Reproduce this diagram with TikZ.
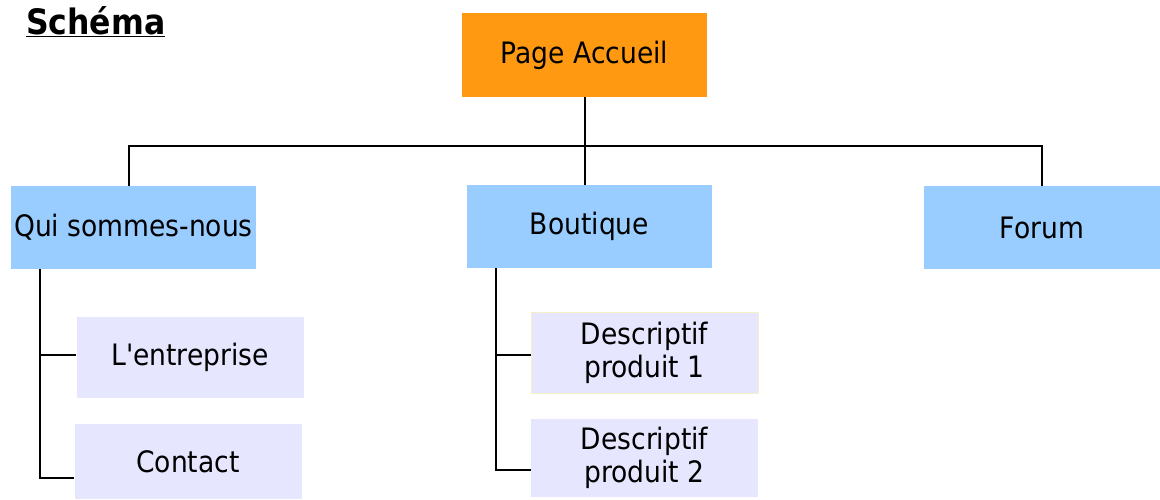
\documentclass[tikz,border=0pt]{standalone}
\usepackage{fontspec}
\setmainfont{DejaVu Sans Condensed}[Ligatures=TeXOff]
\definecolor{homeorange}{HTML}{FF9912}
\definecolor{secblue}{HTML}{99CCFF}
\definecolor{subviolet}{HTML}{E6E6FF}
\begin{document}
\begin{tikzpicture}[x=1pt,y=-1pt,
  box/.style={inner sep=0pt,minimum width=245pt,minimum height=83pt,align=center,
    font=\fontsize{29.5}{33}\selectfont},
  homebox/.style={box,fill=homeorange,minimum height=84pt},
  secbox/.style={box,fill=secblue},
  subbox/.style={box,fill=subviolet,minimum width=227pt,minimum height=81pt},
  link/.style={draw=black,line width=2pt}]
\useasboundingbox (0,0) rectangle (1160,499);
\node[anchor=base west,font=\fontsize{35}{40}\bfseries\selectfont,inner sep=0pt] (title) at (26,34) {\underline{Schéma}};
\node[homebox] (home) at (584.5,55) {Page Accueil};
\node[secbox] (qui) at (133.5,227.5) {Qui sommes-nous};
\node[secbox] (bout) at (589.5,226.5) {Boutique};
\node[secbox,minimum width=237pt] (forum) at (1042,227.5) {Forum};
\node[subbox] (entr) at (190,357.5) {L'entreprise};
\node[subbox,minimum height=75pt] (contact) at (188,461.5) {Contact};
\node[subbox,draw={rgb,255:red,245;green,240;blue,200},line width=0.6pt] (d1) at (644.5,352.5) {Descriptif\\produit 1};
\node[subbox,minimum height=78pt] (d2) at (644.5,458) {Descriptif\\produit 2};
\coordinate (busL) at (129,146);
\coordinate (busR) at (1042,146);
\coordinate (tL1) at (40,355);
\coordinate (tL2) at (40,478);
\coordinate (tM1) at (496,355);
\coordinate (tM2) at (496,470);
\draw[link] (home.south) -- (home.south |- bout.north);
\draw[link] (busL |- qui.north) -- (busL) -- (busR) -- (busR |- forum.north);
\draw[link] (qui.south -| tL2) -- (tL2) -- (tL2 -| contact.west);
\draw[link] (tL1) -- (tL1 -| entr.west);
\draw[link] (bout.south -| tM2) -- (tM2) -- (tM2 -| d2.west);
\draw[link] (tM1) -- (tM1 -| d1.west);
\end{tikzpicture}
\end{document}
